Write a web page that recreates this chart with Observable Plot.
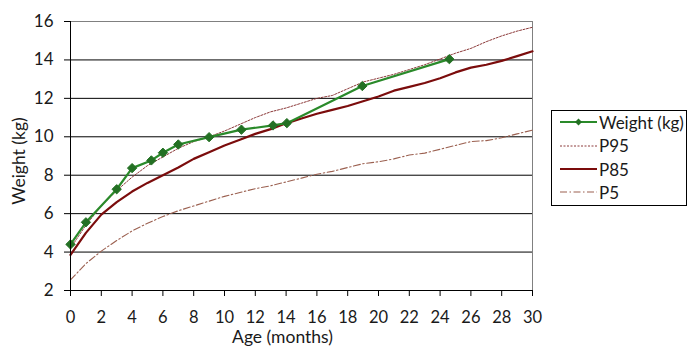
<!DOCTYPE html>
<html>
<head>
<meta charset="utf-8">
<script src="https://cdn.jsdelivr.net/npm/d3@7"></script>
<script src="https://cdn.jsdelivr.net/npm/@observablehq/plot@0.6"></script>
<style>
  html, body { margin: 0; padding: 0; background: #fff; }
  #wrap { position: relative; width: 695px; height: 357px; font-family: Lato, "Open Sans", sans-serif; }
  #legend { position: absolute; left: 551px; top: 110px; width: 136px; height: 96px; border: 1px solid #000; background: #fff; box-sizing: border-box; }
  .item { position: absolute; left: 8px; height: 20px; display: flex; align-items: center; font-size: 17px; color: #1a1a1a; white-space: nowrap; }
  .item svg { margin-right: 2px; }
</style>
</head>
<body>
<div id="wrap"></div>
<script>
// Measured weights
const weightAge = [0, 1, 3, 4, 5.25, 6, 7, 9, 11.1, 13.15, 14.05, 18.95, 24.6];
const weightKg  = [4.4, 5.55, 7.27, 8.37, 8.77, 9.17, 9.6, 9.98, 10.37, 10.59, 10.71, 12.64, 14.04];

// Percentile curves, monthly 0..30
const months = d3.range(0, 31);
const p95 = [4.2, 5.4, 6.4, 7.2, 7.9, 8.5, 8.95, 9.4, 9.75, 10.0, 10.3, 10.65, 11.0, 11.3, 11.5, 11.75, 12.0, 12.15, 12.5, 12.85, 13.05, 13.25, 13.5, 13.75, 14.05, 14.35, 14.6, 14.95, 15.25, 15.5, 15.7];
const p85 = [3.85, 5.0, 5.95, 6.6, 7.15, 7.6, 8.0, 8.4, 8.85, 9.2, 9.55, 9.85, 10.15, 10.4, 10.7, 10.95, 11.2, 11.4, 11.6, 11.85, 12.1, 12.4, 12.6, 12.8, 13.05, 13.35, 13.6, 13.75, 13.95, 14.2, 14.45];
const p5  = [2.55, 3.4, 4.05, 4.6, 5.1, 5.5, 5.85, 6.15, 6.4, 6.65, 6.9, 7.1, 7.3, 7.45, 7.65, 7.85, 8.05, 8.2, 8.4, 8.6, 8.7, 8.85, 9.05, 9.15, 9.35, 9.55, 9.75, 9.8, 9.95, 10.15, 10.35];

const xTicks = d3.range(0, 31, 2);
const yTicks = d3.range(2, 17, 2);
const gridLines = [4, 6, 8, 10, 12, 14];

const weight = weightAge.map((a, i) => ({age: a, kg: weightKg[i]}));
const curve = arr => months.map((m, i) => ({age: m, kg: arr[i]}));

const colors = {weight: "#2a8a2a", marker: "#237023", p95: "#8c3a3a", p85: "#7b0c0c", p5: "#9b6050"};

const chart = Plot.plot({
  width: 695,
  height: 357,
  marginLeft: 70,
  marginRight: 163,
  marginTop: 21,
  marginBottom: 67,
  style: {fontFamily: "Lato, 'Open Sans', sans-serif", fontSize: "17px", color: "#1a1a1a", background: "#fff", overflow: "visible"},
  x: {domain: [0, 30]},
  y: {domain: [2, 16]},
  marks: [
    Plot.ruleY(gridLines, {stroke: "#000", strokeWidth: 1}),
    Plot.ruleY([16], {stroke: "#808080", strokeWidth: 1}),
    Plot.ruleX([30], {stroke: "#808080", strokeWidth: 1}),
    Plot.line(curve(p5), {x: "age", y: "kg", stroke: colors.p5, strokeWidth: 1.1, strokeDasharray: "7,2.5,1.5,2.5"}),
    Plot.line(curve(p95), {x: "age", y: "kg", stroke: colors.p95, strokeWidth: 1, strokeDasharray: "2,1.5"}),
    Plot.line(curve(p85), {x: "age", y: "kg", stroke: colors.p85, strokeWidth: 2.2}),
    Plot.line(weight, {x: "age", y: "kg", stroke: colors.weight, strokeWidth: 2.2}),
    Plot.dot(weight, {x: "age", y: "kg", symbol: "diamond2", r: 4.2, fill: colors.marker, stroke: colors.marker, strokeWidth: 1}),
    Plot.ruleX([0], {stroke: "#000", strokeWidth: 1}),
    Plot.ruleY([2], {stroke: "#000", strokeWidth: 1}),
    Plot.axisX({ticks: xTicks, tickSize: 6, tickPadding: 15, tickFormat: d => String(d), label: null, stroke: "#000", fontSize: 16.5}),
    Plot.axisY({ticks: yTicks, tickSize: 6, tickPadding: 11, tickFormat: d => String(d), label: null, stroke: "#000", fontSize: 17}),
    Plot.text(["Age (months)"], {frameAnchor: "bottom", textAnchor: "middle", lineAnchor: "middle", dy: 47, dx: -19, text: d => d, fontSize: 17.5, fill: "#1a1a1a"}),
    Plot.text(["Weight (kg)"], {frameAnchor: "left", textAnchor: "middle", lineAnchor: "middle", dx: -51, dy: 5, rotate: -90, text: d => d, fontSize: 17.5, fill: "#1a1a1a"})
  ]
});

const wrap = document.getElementById("wrap");
wrap.appendChild(chart);

// Legend
const legendItems = [
  {label: "Weight (kg)", stroke: colors.weight, width: 2.2, dash: null, marker: true},
  {label: "P95", stroke: colors.p95, width: 1, dash: "2,1.5"},
  {label: "P85", stroke: colors.p85, width: 2.2, dash: null},
  {label: "P5", stroke: colors.p5, width: 1.1, dash: "7,2.5,1.5,2.5"}
];
const legend = document.createElement("div");
legend.id = "legend";
const rowTops = [1, 24.5, 48, 71];
legendItems.forEach((it, i) => {
  const row = document.createElement("div");
  row.className = "item";
  row.style.top = rowTops[i] + "px";
  const ns = "http://www.w3.org/2000/svg";
  const s = document.createElementNS(ns, "svg");
  s.setAttribute("width", 37); s.setAttribute("height", 10);
  const l = document.createElementNS(ns, "line");
  l.setAttribute("x1", 0); l.setAttribute("x2", 37); l.setAttribute("y1", 5); l.setAttribute("y2", 5);
  l.setAttribute("stroke", it.stroke); l.setAttribute("stroke-width", it.width);
  if (it.dash) l.setAttribute("stroke-dasharray", it.dash);
  s.appendChild(l);
  if (it.marker) {
    const p = document.createElementNS(ns, "path");
    p.setAttribute("d", "M18.5,1.5 L22,5 L18.5,8.5 L15,5 Z");
    p.setAttribute("fill", colors.marker);
    s.appendChild(p);
  }
  row.appendChild(s);
  const t = document.createElement("span");
  t.textContent = it.label;
  row.appendChild(t);
  legend.appendChild(row);
});
wrap.appendChild(legend);
</script>
</body>
</html>
